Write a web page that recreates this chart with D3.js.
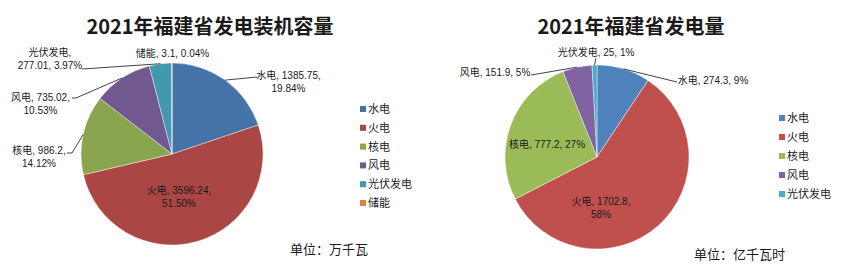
<!DOCTYPE html>
<html>
<head>
<meta charset="utf-8">
<script src="https://cdn.jsdelivr.net/npm/d3@7"></script>
<style>
  body { margin: 0; background: #fff; }
  svg text { font-family: "Noto Sans CJK SC", "Noto Sans", sans-serif; fill: #1a1a1a; }
  svg text.lbl { font-family: "Liberation Sans", "Noto Sans CJK SC", sans-serif; }
</style>
</head>
<body>
<div id="chart"></div>
<script>
// Data: left chart (installed capacity, 万千瓦)
const capNames = ['水电', '火电', '核电', '风电', '光伏发电', '储能'];
const capValues = [1385.75, 3596.24, 986.2, 735.02, 277.01, 3.1];
const capPercents = ['19.84%', '51.50%', '14.12%', '10.53%', '3.97%', '0.04%'];

// Data: right chart (generation, 亿千瓦时)
const genNames = ['水电', '火电', '核电', '风电', '光伏发电'];
const genValues = [274.3, 1702.8, 777.2, 151.9, 25];
const genPercents = ['9%', '58%', '27%', '5%', '1%'];

const capColors = ['#4572A7', '#AA4643', '#89A54E', '#71588F', '#4198AF', '#DB843D'];
const genColors = ['#4F81BD', '#C0504D', '#9BBB59', '#8064A2', '#4BACC6'];

const width = 841, height = 277;

const svg = d3.select('#chart').append('svg')
    .attr('width', width)
    .attr('height', height);

// label layout for each slice: text lines with centre positions, leader start points
const capLayout = {
    title: '2021年福建省发电装机容量', titleX: 210, titleY: 25,
    cx: 172, cy: 154, r: 91,
    legendX: 360, legendY: 108, legendStep: 18.8,
    unit: '单位：万千瓦', unitX: 290, unitY: 248,
    labels: [
        { lines: (n, v, p) => [`${n}, ${v},`, p], x: 288.5, y: 75, leader: [[257, 77]] },
        { lines: (n, v, p) => [`${n}, ${v},`, p], x: 179, y: 190 },
        { lines: (n, v, p) => [`${n}, ${v},`, p], x: 39, y: 150, leader: [[67, 153], [72, 153]] },
        { lines: (n, v, p) => [`${n}, ${v},`, p], x: 40.5, y: 97, leader: [[72, 98], [76, 98]] },
        { lines: (n, v, p) => [`${n},`, `${v}, ${p}`], x: 50, y: 52, leader: [[82, 69]] },
        { lines: (n, v, p) => [`${n}, ${v}, ${p}`], x: 172.5, y: 53 }
    ]
};

const genLayout = {
    title: '2021年福建省发电量', titleX: 631, titleY: 25,
    cx: 597, cy: 157, r: 92,
    legendX: 779, legendY: 117, legendStep: 19,
    unit: '单位：亿千瓦时', unitX: 694, unitY: 253,
    labels: [
        { lines: (n, v, p) => [`${n}, ${v}, ${p}`], x: 713, y: 80, leader: [[677, 82]] },
        { lines: (n, v, p) => [`${n}, ${v},`, p], x: 601, y: 201 },
        { lines: (n, v, p) => [`${n}, ${v}, ${p}`], x: 547, y: 144 },
        { lines: (n, v, p) => [`${n}, ${v}, ${p}`], x: 495, y: 72, leader: [[531, 75]] },
        { lines: (n, v, p) => [`${n}, ${v}, ${p}`], x: 596, y: 52, leader: [[596, 58]] }
    ]
};

function drawPie(names, values, percents, colors, layout) {
    const g = svg.append('g');

    g.append('text')
        .attr('x', layout.titleX)
        .attr('y', layout.titleY)
        .attr('text-anchor', 'middle')
        .attr('dominant-baseline', 'central')
        .style('font-size', '20px')
        .style('font-weight', 'bold')
        .text(layout.title);

    const data = names.map((n, i) => ({ name: n, value: values[i], pct: percents[i], i: i }));

    const pie = d3.pie()
        .sort(null)
        .value(d => d.value);
    const arcs = pie(data);

    const arc = d3.arc()
        .innerRadius(0)
        .outerRadius(layout.r);

    const pieG = g.append('g')
        .attr('transform', `translate(${layout.cx},${layout.cy})`);

    pieG.selectAll('path')
        .data(arcs)
        .enter().append('path')
        .attr('d', arc)
        .attr('fill', d => colors[d.data.i])
        .attr('stroke', 'rgba(255,255,255,0.6)')
        .attr('stroke-width', 0.7);

    // leader lines: from label to arc edge at mid angle
    arcs.forEach((a, i) => {
        const lab = layout.labels[i];
        if (!lab.leader) return;
        const mid = (a.startAngle + a.endAngle) / 2;
        const [px, py] = d3.pointRadial(mid, layout.r);
        const pts = lab.leader.concat([[layout.cx + px, layout.cy + py]]);
        g.append('path')
            .attr('d', d3.line()(pts))
            .attr('fill', 'none')
            .attr('stroke', '#444')
            .attr('stroke-width', 1);
    });

    // data labels, one text per label with a tspan per line
    arcs.forEach((a, i) => {
        const lab = layout.labels[i];
        const lines = lab.lines(a.data.name, a.data.value, a.data.pct);
        const t = g.append('text')
            .attr('class', 'lbl')
            .attr('text-anchor', 'middle')
            .style('font-size', '10px');
        lines.forEach((line, k) => {
            t.append('tspan')
                .attr('x', lab.x)
                .attr('y', lab.y + k * 13.5 + 3.5)
                .text(line);
        });
    });

    // legend
    const legend = g.selectAll('.legend')
        .data(data)
        .enter().append('g')
        .attr('transform', (d, i) => `translate(${layout.legendX},${layout.legendY + i * layout.legendStep})`);

    legend.append('rect')
        .attr('x', 0)
        .attr('y', -2)
        .attr('width', 6)
        .attr('height', 6)
        .attr('fill', d => colors[d.i]);

    legend.append('text')
        .attr('x', 8)
        .attr('y', 0)
        .attr('dominant-baseline', 'central')
        .style('font-size', '11px')
        .text(d => d.name);

    g.append('text')
        .attr('x', layout.unitX)
        .attr('y', layout.unitY)
        .attr('dominant-baseline', 'central')
        .style('font-size', '13px')
        .text(layout.unit);
}

drawPie(capNames, capValues, capPercents, capColors, capLayout);
drawPie(genNames, genValues, genPercents, genColors, genLayout);
</script>
</body>
</html>
